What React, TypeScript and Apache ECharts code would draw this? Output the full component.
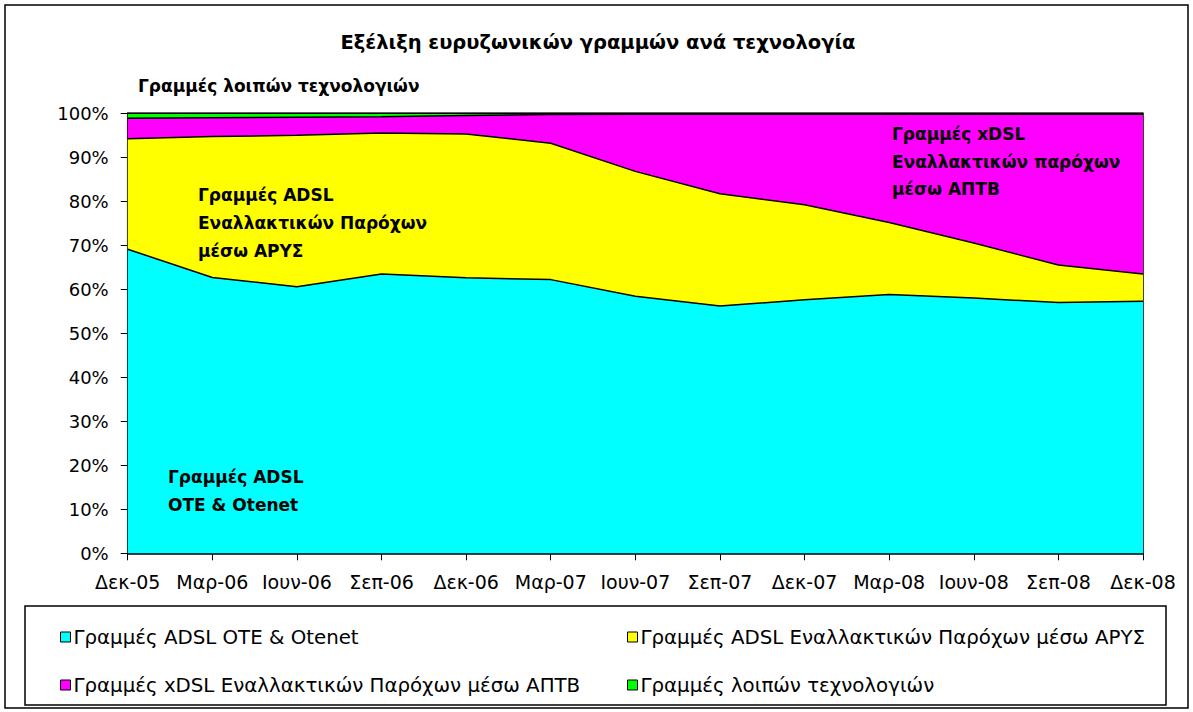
import React, { useEffect, useRef } from "react";
import * as echarts from "echarts";

const categories = ["Δεκ-05", "Μαρ-06", "Ιουν-06", "Σεπ-06", "Δεκ-06", "Μαρ-07", "Ιουν-07", "Σεπ-07", "Δεκ-07", "Μαρ-08", "Ιουν-08", "Σεπ-08", "Δεκ-08"];
const seriesNames = [
  "Γραμμές ADSL OTE & Otenet",
  "Γραμμές ADSL Εναλλακτικών Παρόχων μέσω ΑΡΥΣ",
  "Γραμμές xDSL Εναλλακτικών Παρόχων μέσω ΑΠΤΒ",
  "Γραμμές λοιπών τεχνολογιών",
];
const oteValues = [69.1, 62.7, 60.6, 63.5, 62.6, 62.2, 58.4, 56.2, 57.6, 58.8, 58.0, 57.0, 57.3];
const arysValues = [25.1, 32.0, 34.4, 32.0, 32.7, 31.0, 28.4, 25.5, 21.6, 16.4, 12.5, 8.5, 6.2];
const aptvValues = [4.7, 4.3, 4.1, 3.7, 4.2, 6.5, 13.0, 18.1, 20.6, 24.6, 29.3, 34.3, 36.3];
const otherValues = [1.1, 1.0, 0.9, 0.8, 0.5, 0.3, 0.2, 0.2, 0.2, 0.2, 0.2, 0.2, 0.2];
const yTicks = [0, 10, 20, 30, 40, 50, 60, 70, 80, 90, 100];
const colors = ["#00FFFF", "#FFFF00", "#FF00FF", "#00FF00"];

const FONT = "'DejaVu Sans', 'Liberation Sans', Arial, sans-serif";

export default function App() {
  const ref = useRef<HTMLDivElement>(null);
  useEffect(() => {
    document.body.style.margin = "0";
    if (!ref.current) return;
    const chart = echarts.init(ref.current, undefined, { renderer: "svg" });
    const values = [oteValues, arysValues, aptvValues, otherValues];
    const legendPos = [
      { left: 55, top: 622 },
      { left: 622, top: 622 },
      { left: 55, top: 670 },
      { left: 622, top: 670 },
    ];
    const boldText = (text: string, x: number, y: number, size = 17) => ({
      type: "text",
      x,
      y,
      style: {
        text,
        fill: "#000",
        font: `bold ${size}px ${FONT}`,
        textVerticalAlign: "middle",
      },
      z: 100,
    });
    chart.setOption({
      animation: false,
      backgroundColor: "#fff",
      grid: {
        left: 127.7,
        right: 50,
        top: 113.3,
        bottom: 158.7,
        show: true,
        borderColor: "#000",
        borderWidth: 1.5,
      },
      xAxis: {
        type: "category",
        data: categories,
        boundaryGap: false,
        axisLine: { lineStyle: { color: "#000", width: 1.5 } },
        axisTick: { show: true, length: 7, lineStyle: { color: "#000" } },
        axisLabel: { color: "#000", fontFamily: FONT, fontSize: 19, margin: 19, interval: 0 },
        splitLine: { show: false },
      },
      yAxis: {
        type: "value",
        min: 0,
        max: 100,
        interval: 10,
        axisLine: { show: true, lineStyle: { color: "#000", width: 1.5 } },
        axisTick: { show: true, length: 7, lineStyle: { color: "#000" } },
        axisLabel: {
          color: "#000",
          fontFamily: FONT,
          fontSize: 18,
          margin: 19,
          formatter: (v: number) => (yTicks.includes(v) ? `${v}%` : ""),
        },
        splitLine: { show: false },
      },
      legend: seriesNames.map((name, i) => ({
        data: [name],
        left: legendPos[i].left,
        top: legendPos[i].top,
        icon: "rect",
        itemWidth: 10,
        itemHeight: 10,
        itemGap: 5,
        selectedMode: false,
        itemStyle: { borderColor: "#000", borderWidth: 1 },
        textStyle: { color: "#000", fontFamily: FONT, fontSize: 19.8, padding: [0, 0, 0, -2] },
      })),
      series: seriesNames.map((name, i) => ({
        name,
        type: "line",
        stack: "total",
        data: values[i],
        showSymbol: false,
        symbol: "none",
        color: colors[i],
        lineStyle: { color: "#000", width: 1.5 },
        areaStyle: { color: colors[i], opacity: 1 },
        itemStyle: { color: colors[i] },
      })),
      graphic: [
        {
          type: "rect",
          shape: { x: 5, y: 5, width: 1183, height: 703 },
          style: { fill: "none", stroke: "#000", lineWidth: 1.5 },
          silent: true,
        },
        {
          type: "rect",
          shape: { x: 25, y: 606, width: 1141, height: 99 },
          style: { fill: "none", stroke: "#000", lineWidth: 1.5 },
          silent: true,
        },
        {
          type: "text",
          x: 598,
          y: 42,
          style: {
            text: "Εξέλιξη ευρυζωνικών γραμμών ανά τεχνολογία",
            fill: "#000",
            font: `bold 19.5px ${FONT}`,
            textAlign: "center",
            textVerticalAlign: "middle",
          },
        },
        boldText("Γραμμές λοιπών τεχνολογιών", 138, 86),
        boldText("Γραμμές ADSL", 198, 195),
        boldText("Εναλλακτικών Παρόχων", 198, 223),
        boldText("μέσω ΑΡΥΣ", 198, 251),
        boldText("Γραμμές xDSL", 892, 134),
        boldText("Εναλλακτικών παρόχων", 892, 162),
        boldText("μέσω ΑΠΤΒ", 892, 189),
        boldText("Γραμμές ADSL", 168, 477),
        boldText("OTE & Otenet", 168, 505),
      ],
    });
    return () => chart.dispose();
  }, []);
  return <div ref={ref} style={{ width: 1193, height: 712 }} />;
}
